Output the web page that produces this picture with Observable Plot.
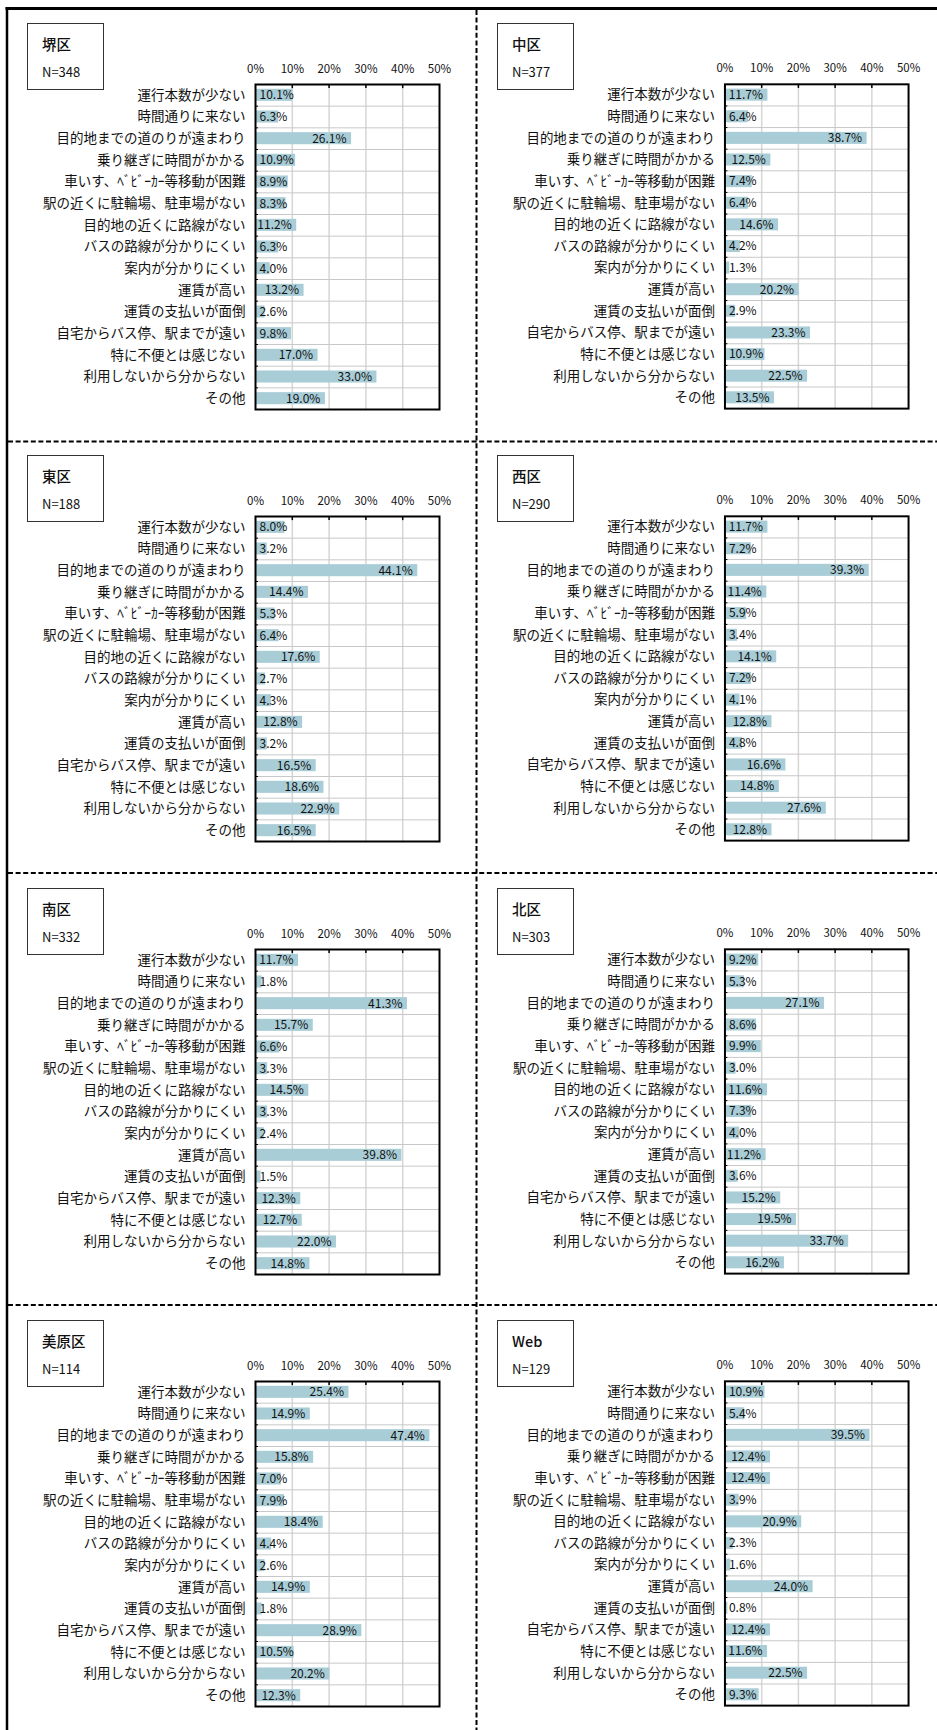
<!DOCTYPE html>
<html>
<head>
<meta charset="utf-8">
<script src="https://cdn.jsdelivr.net/npm/d3@7"></script>
<script src="https://cdn.jsdelivr.net/npm/@observablehq/plot@0.6"></script>
<style>
  body { margin: 0; background: #fff; }
  #root { position: relative; width: 937px; height: 1730px; overflow: hidden; background: #fff; }
  .panel { position: absolute; }
  .lbl { position: absolute; width: 75px; height: 65px; border: 1.5px solid #333; font-family: "Noto Sans CJK JP", sans-serif; color: #111; }
  .lbl .t { position: absolute; left: 14px; top: 10px; font-size: 14.5px; line-height: 20px; font-weight: 500; }
  .lbl .n { position: absolute; left: 14px; top: 38px; font-size: 13px; line-height: 20px; }
  #deco { position: absolute; left: 0; top: 0; pointer-events: none; }
</style>
</head>
<body>
<div id="root"></div>
<script>
// ---- data ----
const categories = [
  "運行本数が少ない",
  "時間通りに来ない",
  "目的地までの道のりが遠まわり",
  "乗り継ぎに時間がかかる",
  "車いす、ﾍﾞﾋﾞｰｶｰ等移動が困難",
  "駅の近くに駐輪場、駐車場がない",
  "目的地の近くに路線がない",
  "バスの路線が分かりにくい",
  "案内が分かりにくい",
  "運賃が高い",
  "運賃の支払いが面倒",
  "自宅からバス停、駅までが遠い",
  "特に不便とは感じない",
  "利用しないから分からない",
  "その他"
];
const xTicks = [0, 10, 20, 30, 40, 50];

const areaNames = ["堺区", "中区", "東区", "西区", "南区", "北区", "美原区", "Web"];
const areaN = [348, 377, 188, 290, 332, 303, 114, 129];

const sakai   = [10.1, 6.3, 26.1, 10.9, 8.9, 8.3, 11.2, 6.3, 4.0, 13.2, 2.6, 9.8, 17.0, 33.0, 19.0];
const naka    = [11.7, 6.4, 38.7, 12.5, 7.4, 6.4, 14.6, 4.2, 1.3, 20.2, 2.9, 23.3, 10.9, 22.5, 13.5];
const higashi = [8.0, 3.2, 44.1, 14.4, 5.3, 6.4, 17.6, 2.7, 4.3, 12.8, 3.2, 16.5, 18.6, 22.9, 16.5];
const nishi   = [11.7, 7.2, 39.3, 11.4, 5.9, 3.4, 14.1, 7.2, 4.1, 12.8, 4.8, 16.6, 14.8, 27.6, 12.8];
const minami  = [11.7, 1.8, 41.3, 15.7, 6.6, 3.3, 14.5, 3.3, 2.4, 39.8, 1.5, 12.3, 12.7, 22.0, 14.8];
const kita    = [9.2, 5.3, 27.1, 8.6, 9.9, 3.0, 11.6, 7.3, 4.0, 11.2, 3.6, 15.2, 19.5, 33.7, 16.2];
const mihara  = [25.4, 14.9, 47.4, 15.8, 7.0, 7.9, 18.4, 4.4, 2.6, 14.9, 1.8, 28.9, 10.5, 20.2, 12.3];
const web     = [10.9, 5.4, 39.5, 12.4, 12.4, 3.9, 20.9, 2.3, 1.6, 24.0, 0.8, 12.4, 11.6, 22.5, 9.3];
const areaValues = [sakai, naka, higashi, nishi, minami, kita, mihara, web];

// ---- layout ----
const colX = [0, 470];
const rowY = [0, 432.3, 864.6, 1297];
const FONT = '"Noto Sans CJK JP", "Noto Sans", sans-serif';
const root = document.getElementById("root");

function makePanel(k) {
  const values = areaValues[k];
  const rows = categories.map((c, i) => ({cat: c, i, v: values[i]}));
  const big = rows.filter(d => d.v >= 11);
  const small = rows.filter(d => d.v < 11);
  const lab = d => d.v.toFixed(1) + "%";
  const chart = Plot.plot({
    width: 468, height: 430,
    marginLeft: 255, marginRight: 29, marginTop: 84, marginBottom: 21,
    x: {domain: [0, 50], axis: null, label: null},
    y: {domain: [15, 0], axis: null, label: null},
    style: {fontFamily: FONT, background: "transparent", color: "#111", overflow: "visible"},
    marks: [
      Plot.ruleX([10, 20, 30, 40], {stroke: "#d6d6d6", strokeWidth: 1.5}),
      Plot.ruleY(d3.range(1, 15), {stroke: "#c8c8c8", strokeWidth: 1}),
      Plot.rect(rows, {x1: 0, x2: "v", y1: "i", y2: d => d.i + 1, insetTop: 4.8, insetBottom: 4.8, fill: "#a9cdd7"}),
      Plot.text(big, {x: "v", y: d => d.i + 0.5, text: lab, textAnchor: "end", dx: -5, fontSize: 12, fill: "#111"}),
      Plot.text(small, {x: 0, y: d => d.i + 0.5, text: lab, textAnchor: "start", dx: 4, fontSize: 12, fill: "#111"}),
      Plot.ruleX([10, 20, 30, 40], {y1: 0, y2: 0.19, stroke: "#000", strokeWidth: 1.5}),
      Plot.ruleY(d3.range(1, 15), {x1: 0, x2: 0.8, stroke: "#000", strokeWidth: 1}),
      Plot.axisX({anchor: "top", label: null, ticks: xTicks, tickFormat: d => d + "%", tickSize: 0, tickPadding: 12, fontSize: 11.5}),
      Plot.axisY({anchor: "left", label: null, ticks: categories.map((c, i) => i + 0.5), tickFormat: v => categories[Math.floor(v)], tickSize: 0, tickPadding: 10, fontSize: 13.5}),
      Plot.frame({stroke: "#000", strokeWidth: 2})
    ]
  });
  const col = k % 2, row = Math.floor(k / 2);
  const wrap = document.createElement("div");
  wrap.className = "panel";
  wrap.style.left = colX[col] + "px";
  wrap.style.top = rowY[row] + "px";
  wrap.appendChild(chart);
  root.appendChild(wrap);

  const box = document.createElement("div");
  box.className = "lbl";
  box.style.left = (colX[col] + 27) + "px";
  box.style.top = (rowY[row] + 23) + "px";
  const t = document.createElement("div"); t.className = "t"; t.textContent = areaNames[k];
  const n = document.createElement("div"); n.className = "n"; n.textContent = "N=" + areaN[k];
  box.appendChild(t); box.appendChild(n);
  root.appendChild(box);
}

for (let k = 0; k < 8; k++) makePanel(k);

// ---- decorative frame and dashed dividers ----
const ns = "http://www.w3.org/2000/svg";
const deco = document.createElementNS(ns, "svg");
deco.setAttribute("id", "deco");
deco.setAttribute("width", 937);
deco.setAttribute("height", 1730);
function line(x1, y1, x2, y2, w, dash) {
  const l = document.createElementNS(ns, "line");
  l.setAttribute("x1", x1); l.setAttribute("y1", y1);
  l.setAttribute("x2", x2); l.setAttribute("y2", y2);
  l.setAttribute("stroke", "#000"); l.setAttribute("stroke-width", w);
  if (dash) l.setAttribute("stroke-dasharray", dash);
  deco.appendChild(l);
}
line(5.5, 8.5, 937, 8.5, 3);
line(7, 7, 7, 1730, 2.5);
line(476.5, 10, 476.5, 1730, 2, "5 2.6");
[441.5, 873, 1305].forEach(y => line(8, y, 937, y, 2, "5 2.6"));
root.appendChild(deco);
</script>
</body>
</html>
